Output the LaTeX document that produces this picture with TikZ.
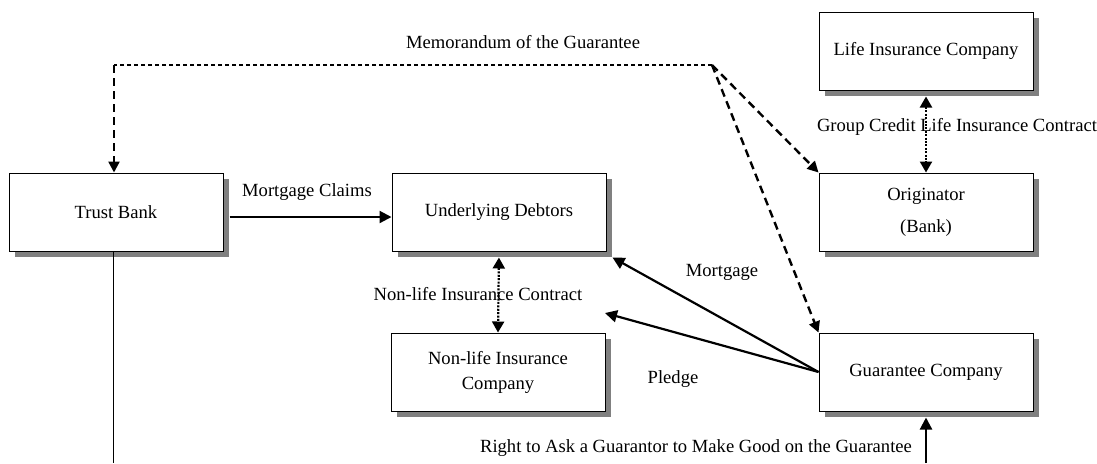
\documentclass[tikz,border=0pt]{standalone}
\usepackage{fontspec}
\setmainfont{Liberation Serif}
\usetikzlibrary{arrows.meta,shadows}

\begin{document}
\begin{tikzpicture}[x=0.5pt, y=-0.5pt,
    every node/.style={font=\fontsize{9.3}{11}\selectfont},
    party/.style={draw, line width=0.5pt, fill=white, minimum width=107pt, minimum height=39pt,
        inner sep=0pt, align=center,
        drop shadow={shadow xshift=3pt, shadow yshift=-3pt, fill=black!50, opacity=1}},
    flow/.style={line width=1.1pt, -{Triangle[length=6pt,width=6pt]}},
    memoline/.style={line width=0.6pt, dash pattern=on 2pt off 1.5pt},
    memoarrow/.style={line width=1.2pt, dash pattern=on 4pt off 2.5pt, -{Triangle[length=5.5pt,width=5.5pt]}},
    contract/.style={line width=1.1pt, dash pattern=on 1pt off 0.7pt,
        {Triangle[length=5.5pt,width=6pt]}-{Triangle[length=5.5pt,width=6pt]}}]
\useasboundingbox (0, 0) rectangle (1097, 463);
\node[party] (trust) at (116, 212){Trust Bank};
\node[party] (debtors) at (499, 212){Underlying Debtors};
\node[party] (nonlife) at (498, 372){Non-life Insurance\\[1.5pt]Company};
\node[party] (guarantee) at (926, 372){Guarantee Company};
\node[party] (originator) at (926, 212){Originator\\[5pt](Bank)};
\node[party] (life) at (926, 51){Life Insurance Company};
\node (memolabel) at (523, 42){Memorandum of the Guarantee};
\node (claimslabel) at (307, 192){Mortgage Claims};
\node (contractlabel) at (478, 294){Non-life Insurance Contract};
\node (grouplabel) at (957, 127){Group Credit Life Insurance Contract};
\node (mortgagelabel) at (722, 272){Mortgage};
\node (pledgelabel) at (673, 379){Pledge};
\node (asklabel) at (696, 448){Right to Ask a Guarantor to Make Good on the Guarantee};
\coordinate (memocorner) at (712, 65);
\coordinate (memoleft) at (114, 65);
\coordinate (pledgeend) at (605, 313);
\coordinate (trustfoot) at (113, 463);
\coordinate (askfoot) at (926, 463);
\draw[memoline] (memocorner) -- (memoleft);
\draw[memoarrow] (memoleft) -- (memoleft |- trust.north);
\draw[memoarrow] (memocorner) -- (originator.north west);
\draw[memoarrow] (memocorner) -- (guarantee.north west);
\draw[flow, shorten <=3pt] ([yshift=-2.5pt]trust.east) -- ([yshift=-2.5pt]debtors.west);
\draw[line width=0.5pt] (trustfoot |- trust.south) -- (trustfoot);
\draw[flow, shorten >=3pt] (askfoot) -- (guarantee.south);
\draw[contract, shorten <=3pt] (debtors.south) -- (nonlife.north);
\draw[contract, shorten <=3pt] (life.south) -- (originator.north);
\draw[flow] (guarantee.west) -- ([shift={(3pt,-3pt)}]debtors.south east);
\draw[flow] (guarantee.west) -- (pledgeend);
\end{tikzpicture}
\end{document}
